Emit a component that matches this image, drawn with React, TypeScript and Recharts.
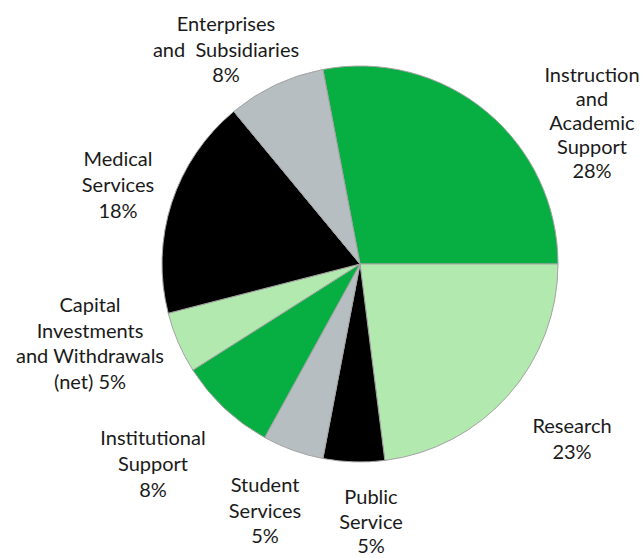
import { PieChart, Pie, Cell } from 'recharts'

const names = [
  'Instruction and Academic Support',
  'Research',
  'Public Service',
  'Student Services',
  'Institutional Support',
  'Capital Investments and Withdrawals (net)',
  'Medical Services',
  'Enterprises and Subsidiaries',
]

const shares = [28, 23, 5, 5, 8, 5, 18, 8]

// label text, one entry per line; the last line carries the percent
const labelLines = [
  ['Instruction', 'and', 'Academic', 'Support', '28%'],
  ['Research', '23%'],
  ['Public', 'Service', '5%'],
  ['Student', 'Services', '5%'],
  ['Institutional', 'Support', '8%'],
  ['Capital', 'Investments', 'and Withdrawals', '(net) 5%'],
  ['Medical', 'Services', '18%'],
  ['Enterprises', 'and  Subsidiaries', '8%'],
]

const colors = ['#07af42', '#b2e9ae', '#000000', '#b7bec1', '#07af42', '#b2e9ae', '#000000', '#b7bec1']

// where each label block sits (centre x, first baseline y, line gap)
const labelSpots = [
  { x: 592, y: 82, gap: 24 },
  { x: 572, y: 433, gap: 25.5 },
  { x: 371, y: 504, gap: 24.5 },
  { x: 265, y: 492, gap: 25.5 },
  { x: 153, y: 445, gap: 26 },
  { x: 90, y: 312, gap: 25.5 },
  { x: 118, y: 166, gap: 26 },
  { x: 226, y: 31, gap: 25.5 },
]

const data = names.map((name, i) => ({ name, value: shares[i] }))

function renderLabel(props: any) {
  const i = props.index
  const spot = labelSpots[i]
  return (
    <text
      x={spot.x}
      y={spot.y}
      textAnchor="middle"
      fill="#1a1a1a"
      fontSize={20}
      fontFamily="Lato, 'Noto Sans', sans-serif"
      style={{ whiteSpace: 'pre' }}
    >
      {labelLines[i].map((line, j) => (
        <tspan key={j} x={spot.x} dy={j === 0 ? 0 : spot.gap}>
          {line}
        </tspan>
      ))}
    </text>
  )
}

export default function App() {
  return (
    <div style={{ position: 'absolute', left: 0, top: 0, width: 641, height: 558, background: '#fff' }}>
      <PieChart width={641} height={558} margin={{ top: 0, right: 0, bottom: 0, left: 0 }}>
        <Pie
          data={data}
          dataKey="value"
          cx={360}
          cy={264}
          outerRadius={198}
          startAngle={100.8}
          endAngle={-259.2}
          stroke="#a3a3a3"
          strokeWidth={1}
          labelLine={false}
          label={renderLabel}
          isAnimationActive={false}
        >
          {data.map((entry, index) => (
            <Cell key={`cell-${index}`} fill={colors[index]} />
          ))}
        </Pie>
      </PieChart>
    </div>
  )
}
